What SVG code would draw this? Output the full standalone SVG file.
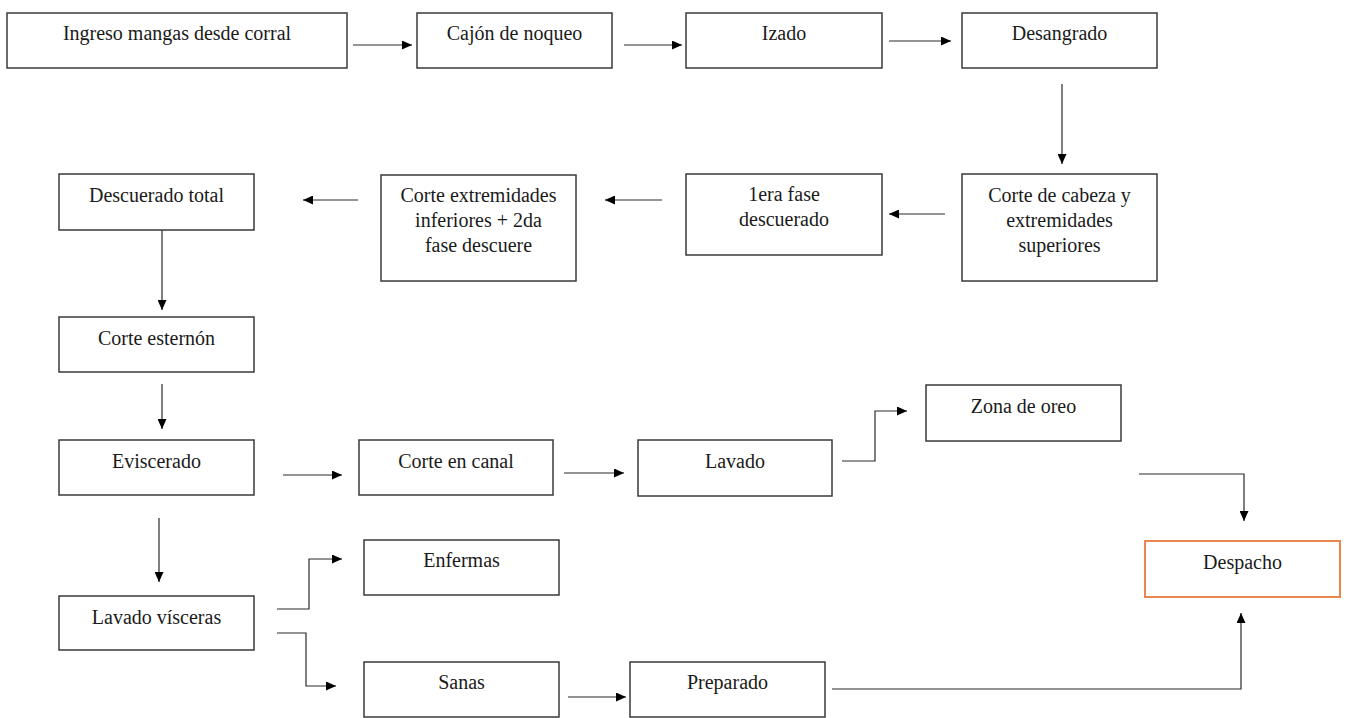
<svg xmlns="http://www.w3.org/2000/svg" width="1348" height="718" viewBox="0 0 1348 718">
<style>
  .box { fill: #ffffff; stroke: #3a3a3a; stroke-width: 1.5; }
  .orange { fill: #ffffff; stroke: #E8884F; stroke-width: 2; }
  .lbl { font-family: "Liberation Serif", "Times New Roman", serif; font-size: 20px; fill: #1a1a1a; text-anchor: middle; }
  .con { fill: none; stroke: #2a2a2a; stroke-width: 1.2; marker-end: url(#ah); }
</style>
<defs>
  <marker id="ah" markerUnits="userSpaceOnUse" markerWidth="11" markerHeight="9" refX="10" refY="4.5" orient="auto">
    <path d="M0,0 L10,4.5 L0,9 z" fill="#000000"/>
  </marker>
</defs>
<rect width="1348" height="718" fill="#ffffff"/>

<g id="connectors">
  <path class="con" d="M353,45 H412"/>
  <path class="con" d="M624,45 H682"/>
  <path class="con" d="M889,41 H951"/>
  <path class="con" d="M1062,84 V164"/>
  <path class="con" d="M945,214 H889"/>
  <path class="con" d="M662,200 H605"/>
  <path class="con" d="M358,200 H303"/>
  <path class="con" d="M162,230 V310"/>
  <path class="con" d="M162,384 V429"/>
  <path class="con" d="M283,475 H342"/>
  <path class="con" d="M564,473 H624"/>
  <path class="con" d="M842,461 H875 V411 H907"/>
  <path class="con" d="M1139,474 H1244 V521"/>
  <path class="con" d="M159,518 V582"/>
  <path class="con" d="M277,609 H309 V559 H342"/>
  <path class="con" d="M277,633 H306 V686 H336"/>
  <path class="con" d="M568,697 H626"/>
  <path class="con" d="M832,689 H1241 V613"/>
</g>

<g id="n1"><rect class="box" x="7" y="13" width="340" height="55"/><text class="lbl" x="177" y="40">Ingreso mangas desde corral</text></g>
<g id="n2"><rect class="box" x="417" y="13" width="195" height="55"/><text class="lbl" x="514.5" y="40">Cajón de noqueo</text></g>
<g id="n3"><rect class="box" x="686" y="13" width="196" height="55"/><text class="lbl" x="784" y="40">Izado</text></g>
<g id="n4"><rect class="box" x="962" y="13" width="195" height="55"/><text class="lbl" x="1059.5" y="40">Desangrado</text></g>
<g id="n5"><rect class="box" x="962" y="174" width="195" height="107"/><text class="lbl" x="1059.5" y="202">Corte de cabeza y</text><text class="lbl" x="1059.5" y="227">extremidades</text><text class="lbl" x="1059.5" y="252">superiores</text></g>
<g id="n6"><rect class="box" x="686" y="174" width="196" height="81"/><text class="lbl" x="784" y="201">1era fase</text><text class="lbl" x="784" y="226">descuerado</text></g>
<g id="n7"><rect class="box" x="381" y="175" width="195" height="106"/><text class="lbl" x="478.5" y="202">Corte extremidades</text><text class="lbl" x="478.5" y="227">inferiores + 2da</text><text class="lbl" x="478.5" y="252">fase descuere</text></g>
<g id="n8"><rect class="box" x="59" y="174" width="195" height="56"/><text class="lbl" x="156.5" y="202">Descuerado total</text></g>
<g id="n9"><rect class="box" x="59" y="317" width="195" height="55"/><text class="lbl" x="156.5" y="345">Corte esternón</text></g>
<g id="n10"><rect class="box" x="59" y="440" width="195" height="55"/><text class="lbl" x="156.5" y="468">Eviscerado</text></g>
<g id="n11"><rect class="box" x="359" y="440" width="194" height="55"/><text class="lbl" x="456" y="468">Corte en canal</text></g>
<g id="n12"><rect class="box" x="638" y="440" width="194" height="56"/><text class="lbl" x="735" y="468">Lavado</text></g>
<g id="n13"><rect class="box" x="926" y="385" width="195" height="56"/><text class="lbl" x="1023.5" y="413">Zona de oreo</text></g>
<g id="n14"><rect class="orange" x="1145" y="541" width="195" height="56"/><text class="lbl" x="1242.5" y="569">Despacho</text></g>
<g id="n15"><rect class="box" x="59" y="596" width="195" height="54"/><text class="lbl" x="156.5" y="624">Lavado vísceras</text></g>
<g id="n16"><rect class="box" x="364" y="540" width="195" height="55"/><text class="lbl" x="461.5" y="567">Enfermas</text></g>
<g id="n17"><rect class="box" x="364" y="662" width="195" height="55"/><text class="lbl" x="461.5" y="689">Sanas</text></g>
<g id="n18"><rect class="box" x="630" y="662" width="195" height="55"/><text class="lbl" x="727.5" y="689">Preparado</text></g>
</svg>
